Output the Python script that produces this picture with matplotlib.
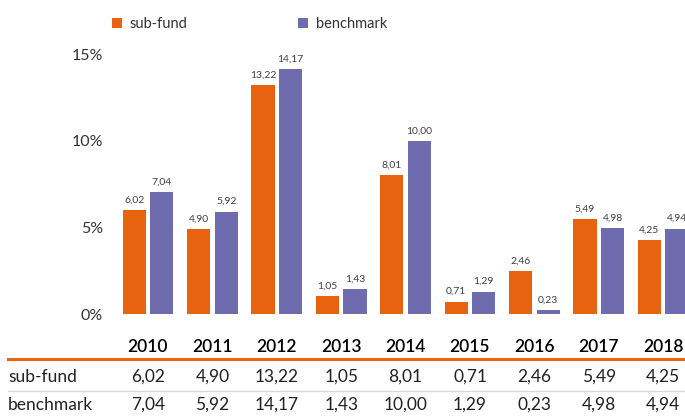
import numpy as np
import matplotlib.pyplot as plt
import matplotlib.transforms as mtransforms
from matplotlib.lines import Line2D

plt.rcParams['font.family'] = ['Lato', 'DejaVu Sans']

years = ["2010", "2011", "2012", "2013", "2014", "2015", "2016", "2017", "2018"]
sub_fund = [6.02, 4.90, 13.22, 1.05, 8.01, 0.71, 2.46, 5.49, 4.25]
benchmark = [7.04, 5.92, 14.17, 1.43, 10.00, 1.29, 0.23, 4.98, 4.94]
yticks = [0, 5, 10, 15]

orange = "#E8630F"
purple = "#6F6BAF"
W, H = 685, 416

fig = plt.figure(figsize=(W / 100, H / 100), dpi=100)
# axes placed in pixel terms: left 110, right 685, bottom 314 (0%), top 40
ax = fig.add_axes([110 / W, 1 - 314 / H, (685 - 110) / W, (314 - 40) / H])

x = np.arange(len(years))
px = 64.4  # pixels per group
ax.set_xlim((110 - 148) / px, (685 - 148) / px)
ax.set_ylim(0, (314 - 40) / 17.3)

bw = 0.36
off = 0.215
b1 = ax.bar(x - off, sub_fund, bw, color=orange, label="sub-fund")
b2 = ax.bar(x + off, benchmark, bw, color=purple, label="benchmark")

fmt = lambda v: f"{v:.2f}".replace(".", ",")
for bars, vals in [(b1, sub_fund), (b2, benchmark)]:
    for r, v in zip(bars, vals):
        ax.annotate(fmt(v), (r.get_x() + r.get_width() / 2, v), xytext=(0, 4),
                    textcoords="offset points", ha="center", va="bottom",
                    fontsize=7.5, color="#404040", clip_on=False)

for s in ax.spines.values():
    s.set_visible(False)
ax.set_xticks([])
ax.set_yticks(yticks)
ax.set_yticklabels([f"{t}%" for t in yticks], fontsize=11.5, color="#333333")
ax.tick_params(axis="y", length=0, pad=5)

# legend
fig.legend(handles=[b1, b2], labels=["sub-fund", "benchmark"], loc="center left",
           bbox_to_anchor=(112 / W, 1 - 24 / H), ncol=2, frameon=False,
           fontsize=10.5, handlelength=0.7, handleheight=0.7, handletextpad=0.5,
           columnspacing=7.6, labelcolor="#333333", borderpad=0, borderaxespad=0)

# table under the chart
trans = mtransforms.blended_transform_factory(ax.transData, fig.transFigure)
row_y = {"year": 1 - 347 / H, "sub": 1 - 377 / H, "bench": 1 - 405 / H}
for i, yr in enumerate(years):
    fig.text(i, row_y["year"], yr, transform=trans, ha="center", va="center",
             fontsize=12.5, fontweight="semibold", color="black")
    fig.text(i, row_y["sub"], fmt(sub_fund[i]), transform=trans, ha="center",
             va="center", fontsize=12.5, color="#222222")
    fig.text(i, row_y["bench"], fmt(benchmark[i]), transform=trans, ha="center",
             va="center", fontsize=12.5, color="#222222")
fig.text(8 / W, row_y["sub"], "sub-fund", ha="left", va="center", fontsize=12.5, color="#222222")
fig.text(8 / W, row_y["bench"], "benchmark", ha="left", va="center", fontsize=12.5, color="#222222")

fig.add_artist(Line2D([8 / W, 1], [1 - 359 / H] * 2, color=orange, lw=2.2,
                      transform=fig.transFigure))
fig.add_artist(Line2D([8 / W, 1], [1 - 391 / H] * 2, color="#D9D9D9", lw=1,
                      transform=fig.transFigure))

fig.savefig("out.png", dpi=100)
